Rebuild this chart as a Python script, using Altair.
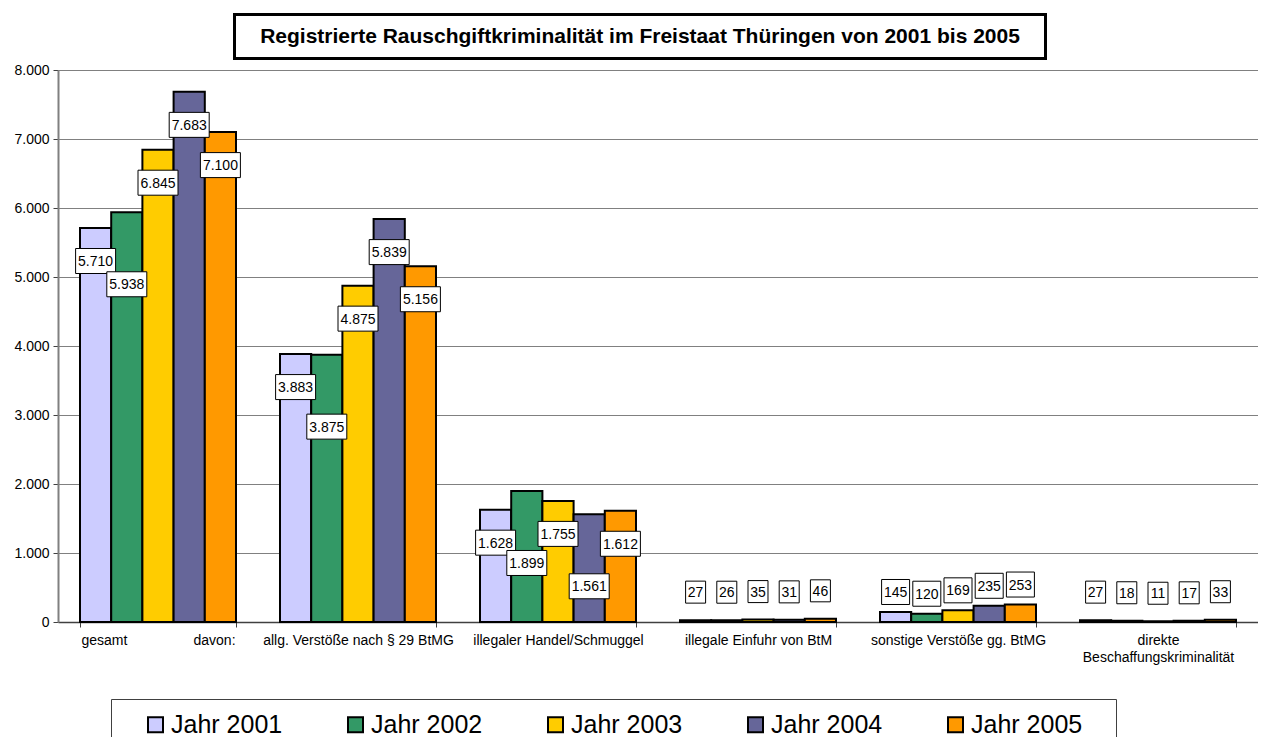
import altair as alt
import pandas as pd

FONT = "Liberation Sans"

categories = [
    "gesamt" + "\u00a0" * 17 + "davon:",
    "allg. Verstöße nach § 29 BtMG",
    "illegaler Handel/Schmuggel",
    "illegale Einfuhr von BtM",
    "sonstige Verstöße gg. BtMG",
    "direkte|Beschaffungskriminalität",
]
years = ["Jahr 2001", "Jahr 2002", "Jahr 2003", "Jahr 2004", "Jahr 2005"]
v2001 = [5710, 3883, 1628, 27, 145, 27]
v2002 = [5938, 3875, 1899, 26, 120, 18]
v2003 = [6845, 4875, 1755, 35, 169, 11]
v2004 = [7683, 5839, 1561, 31, 235, 17]
v2005 = [7100, 5156, 1612, 46, 253, 33]
colors = ["#CCCCFF", "#339966", "#FFCC00", "#666699", "#FF9900"]
y_ticks = [0, 1000, 2000, 3000, 4000, 5000, 6000, 7000, 8000]
title_text = "Registrierte Rauschgiftkriminalität im Freistaat Thüringen von 2001 bis 2005"

series = [v2001, v2002, v2003, v2004, v2005]
rows = []
for yr, vals in zip(years, series):
    for c, v in zip(categories, vals):
        rows.append({"cat": c, "series": yr, "value": v})
df = pd.DataFrame(rows)

x_enc = alt.X(
    "cat:N",
    sort=categories,
    scale=alt.Scale(paddingInner=0.22, paddingOuter=0.11),
    axis=alt.Axis(
        title=None, labelAngle=0, tickBand="extent",
        labelExpr="split(datum.label, '|')",
        labelFont=FONT, labelFontSize=14, labelColor="black",
        labelLimit=400, labelOverlap=False, labelLineHeight=17,
        tickSize=5, tickColor="#404040", labelPadding=6,
        domainColor="#404040", domainWidth=1.5, grid=False,
    ),
)
xoff = alt.XOffset("series:N", sort=years, scale=alt.Scale(paddingInner=0, paddingOuter=0))
y_enc = alt.Y(
    "value:Q",
    scale=alt.Scale(domain=[0, 8000], nice=False),
    axis=alt.Axis(
        title=None, values=y_ticks,
        labelExpr="replace(format(datum.value, ','), ',', '.')",
        labelFont=FONT, labelFontSize=14, labelColor="black",
        tickSize=5, tickColor="#404040", labelPadding=4,
        domainColor="#808080", domainWidth=2,
        gridColor="#808080", gridWidth=1,
    ),
)

# label placement: a label is moved further down when it would collide
# with the label of the preceding bar in the same group
base = alt.Chart(df).transform_window(
    window=[alt.WindowFieldDef(op="lag", field="value", **{"as": "prev"})],
    groupby=["cat"], sort=[alt.SortField("series")],
).transform_calculate(
    near="isValid(datum.prev) && abs(datum.value - datum.prev) < 500 ? 1 : 0",
    s0="datum.near",
)
for k in range(4):
    base = base.transform_window(
        window=[alt.WindowFieldDef(op="lag", field=f"s{k}", **{"as": f"p{k}"})],
        groupby=["cat"], sort=[alt.SortField("series")],
    ).transform_calculate(**{f"s{k+1}": f"datum.near == 1 && datum.p{k} != 1 ? 1 : 0"})
base = base.transform_calculate(
    shift="datum.s4", lbl="replace(format(datum.value, ','), ',', '.')"
)

bars = alt.Chart(df).mark_bar(stroke="black", strokeWidth=2).encode(
    x=x_enc, xOffset=xoff, y=y_enc,
    color=alt.Color(
        "series:N", sort=years,
        scale=alt.Scale(domain=years, range=colors),
        title=None,
        legend=alt.Legend(
            orient="none", legendX=85, legendY=642, direction="horizontal",
            columns=5, columnPadding=60, padding=0,
            labelFont=FONT, labelFontSize=25, labelColor="black", labelOffset=3,
            symbolType="square", symbolSize=225, symbolStrokeColor="black",
            symbolStrokeWidth=2, symbolOpacity=1,
        ),
    ),
)


def labels(filt, path, size, yoff):
    b = base.transform_filter(filt)
    box = b.mark_point(
        shape=path, size=size, filled=True, fill="white", stroke="black",
        strokeWidth=1, opacity=1, fillOpacity=1, yOffset=yoff,
    ).encode(x=alt.X("cat:N", sort=categories), xOffset=xoff, y="value:Q")
    txt = b.mark_text(
        font=FONT, fontSize=14, color="black", align="center",
        baseline="middle", yOffset=yoff + 1,
    ).encode(x=alt.X("cat:N", sort=categories), xOffset=xoff, y="value:Q", text="lbl:N")
    return [box, txt]


BIG = "M-1,-0.625H1V0.625H-1Z"      # 40 x 25
MID = "M-1,-0.893H1V0.893H-1Z"      # 28 x 25
SMALL = "M-0.909,-1H0.909V1H-0.909Z"  # 20 x 22

lay = [bars]
lay += labels("datum.value >= 1000 && datum.shift == 0", BIG, 1600, 33)
lay += labels("datum.value >= 1000 && datum.shift == 1", BIG, 1600, 72)
lay += labels("datum.value >= 100 && datum.value < 1000", MID, 784, -20)
lay += labels("datum.value < 100", SMALL, 484, -28)

one = pd.DataFrame({"t": [title_text]})
title_box = alt.Chart(one).mark_rect(fill="white", stroke="black", strokeWidth=3).encode(
    x=alt.value(176.5), x2=alt.value(987.5), y=alt.value(-55.5), y2=alt.value(-11.5)
)
title_mark = alt.Chart(one).mark_text(
    font=FONT, fontSize=21, fontWeight="bold", color="black", align="center", baseline="middle"
).encode(x=alt.value(582), y=alt.value(-33), text="t:N")
legend_box = alt.Chart(one).mark_rect(fill="transparent", stroke="#404040", strokeWidth=1).encode(
    x=alt.value(53.5), x2=alt.value(1058.5), y=alt.value(629.5), y2=alt.value(700)
)

chart = alt.layer(*lay, legend_box, title_box, title_mark).properties(
    width=1200, height=552,
    padding={"left": 50, "top": 62, "right": 0, "bottom": 115},
    autosize=alt.AutoSizeParams(type="none"),
).configure_view(stroke="#808080", strokeWidth=1.5).configure(background="white")

chart.save("out.html", embed_options={"renderer": "svg", "actions": False})
